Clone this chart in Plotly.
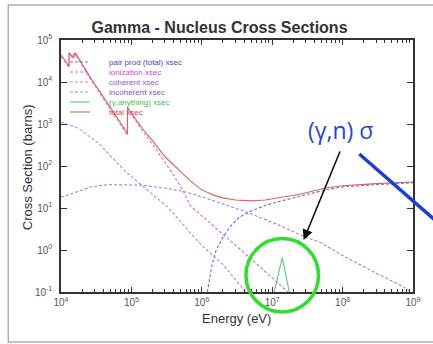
import plotly.graph_objects as go

# ---- cross-section data (energy in eV, cross section in barns) ----
total_E = [1.0e4, 1.30e4, 1.30e4, 1.52e4, 1.52e4, 1.59e4, 1.59e4, 2.0e4, 2.7e4, 4.0e4,
           6.0e4, 8.8e4, 8.8e4, 1.0e5, 1.5e5, 2.0e5, 3.0e5, 5.0e5, 7.0e5, 1.0e6,
           1.5e6, 2.0e6, 3.0e6, 5.0e6, 8.0e6, 1.3e7, 2.4e7, 5.7e7, 1.0e8, 3.0e8, 1.0e9]
total_xs = [4.4e4, 2.4e4, 5.0e4, 3.8e4, 4.8e4, 4.4e4, 5.0e4, 2.6e4, 1.17e4, 4.4e3,
            1.6e3, 600, 2.5e3, 1.8e3, 710, 400, 166, 72, 43, 27,
            20, 17.4, 15.5, 14.8, 15.5, 17.8, 20.9, 30, 34, 38, 41.7]

ion_E = [1.0e4, 1.30e4, 1.30e4, 1.52e4, 1.52e4, 1.59e4, 1.59e4, 2.0e4, 2.7e4, 4.0e4,
         6.0e4, 8.8e4, 8.8e4, 1.0e5, 1.5e5, 2.0e5, 3.0e5, 4.0e5, 5.4e5, 6.8e5,
         1.0e6, 2.0e6, 3.0e6, 5.0e6, 1.0e7, 1.66e7]
ion_xs = [4.1e4, 2.2e4, 4.7e4, 3.6e4, 4.5e4, 4.2e4, 4.7e4, 2.4e4, 1.08e4, 4.0e3,
          1.45e3, 540, 2.3e3, 1.65e3, 620, 330, 125, 60, 26, 11.5,
          6.5, 2.3, 1.3, 0.62, 0.22, 0.1]

coh_E = [1.0e4, 1.77e4, 3.4e4, 8.1e4, 1.55e5, 3.3e5, 6.8e5, 1.0e6, 2.0e6, 4.2e6]
coh_xs = [1120, 790, 350, 76, 30, 10.5, 2.6, 1.3, 0.45, 0.1]

incoh_E = [1.0e4, 2.7e4, 4.7e4, 1.0e5, 1.38e5, 3.3e5, 5.4e5, 1.0e6, 1.8e6, 3.4e6,
           4.7e6, 1.26e7, 3.0e7, 4.7e7, 1.1e8, 3.0e8, 6.9e8, 9.5e8]
incoh_xs = [18, 32, 36, 36, 35, 29, 25, 18.6, 13.2, 9.1,
            7.6, 3.9, 2.0, 1.55, 0.68, 0.28, 0.14, 0.1]

pair_E = [1.2e6, 1.4e6, 1.6e6, 2.0e6, 2.5e6, 3.4e6, 5.0e6, 8.0e6, 1.3e7, 3.0e7,
          6.0e7, 1.0e8, 3.0e8, 1.0e9]
pair_xs = [0.1, 0.45, 1.0, 2.0, 3.5, 6.0, 8.5, 11.5, 14.5, 21,
           27.5, 31.6, 36, 39.8]

gdr_E = [1.07e7, 1.2e7, 1.3e7, 1.39e7, 1.5e7, 1.62e7, 1.75e7]
gdr_xs = [0.1, 0.22, 0.41, 0.66, 0.35, 0.19, 0.1]

series_names = ["pair prod (total) xsec", "ionization xsec", "coherent xsec",
                "incoherent xsec", "(γ,anything) xsec", "total xsec"]
line_colors = ["#6470d8", "#d66ad8", "#b486e2", "#9488e0", "#5ccc6a", "#e0605a"]
text_colors = ["#3a4ad0", "#d048d0", "#8a5ad8", "#7a58cc", "#3cbc4a", "#e04040"]
dashes = ["3px,2px", "3px,2px", "3px,2px", "3px,2px", "solid", "solid"]
series = [(pair_E, pair_xs), (ion_E, ion_xs), (coh_E, coh_xs),
          (incoh_E, incoh_xs), (gdr_E, gdr_xs), (total_E, total_xs)]

x_decades = [4, 5, 6, 7, 8, 9]
y_decades = [-1, 0, 1, 2, 3, 4, 5]

W, H = 433, 344
L, R, T, B = 61, 18, 40, 52
pw, ph = W - L - R, H - T - B


def px(x):
    return (x - L) / pw


def py(y):
    return (H - B - y) / ph


def power_labels(decades):
    return [f"10<sup>{d}</sup>" for d in decades]


fig = go.Figure()
for (E, xs), name, col, dash in zip(series, series_names, line_colors, dashes):
    fig.add_trace(go.Scatter(x=E, y=xs, mode="lines", name=name, showlegend=False,
                             line=dict(color=col, width=1.1, dash=dash)))

shapes = []
annotations = []

# legend drawn inside the frame, line sample followed by coloured label
for i, (name, col, tcol, dash) in enumerate(zip(series_names, line_colors, text_colors, dashes)):
    yy = 62 + i * 10
    shapes.append(dict(type="line", xref="paper", yref="paper",
                       x0=px(70), x1=px(90), y0=py(yy), y1=py(yy),
                       line=dict(color=col, width=1.1, dash=dash)))
    annotations.append(dict(text=name, xref="paper", yref="paper", x=px(107), y=py(yy),
                            xanchor="left", yanchor="middle", showarrow=False,
                            font=dict(size=8, color=tcol, family="Liberation Sans")))

# axis titles
annotations.append(dict(text="Energy (eV)", xref="paper", yref="paper", x=px(237.5), y=py(318),
                        showarrow=False, xanchor="center", yanchor="middle",
                        font=dict(size=13, color="#333", family="Liberation Sans")))
annotations.append(dict(text="Cross Section (barns)", xref="paper", yref="paper", x=px(27), y=py(167),
                        showarrow=False, xanchor="center", yanchor="middle", textangle=-90,
                        font=dict(size=13, color="#333", family="Liberation Sans")))

# (γ,n) call-out
annotations.append(dict(text="(γ,n) σ", xref="paper", yref="paper", x=px(342), y=py(130),
                        showarrow=False, xanchor="center", yanchor="middle",
                        font=dict(size=23, color="#2448d0", family="Open Sans")))
annotations.append(dict(text="", xref="paper", yref="paper", x=px(305), y=py(240),
                        ax=37, ay=-90, showarrow=True, arrowhead=2, arrowsize=1.3,
                        arrowwidth=1.6, arrowcolor="#111"))

# circle around the giant dipole resonance peak
shapes.append(dict(type="circle", xref="paper", yref="paper",
                   x0=px(247), x1=px(320), y0=py(312), y1=py(238.5),
                   line=dict(color="#2ee02e", width=3.5)))
# slanted blue stroke
shapes.append(dict(type="line", xref="paper", yref="paper",
                   x0=px(361), y0=py(154), x1=px(445), y1=py(227),
                   line=dict(color="#1e3ed8", width=3.5)))
# outer frame
shapes.append(dict(type="rect", xref="paper", yref="paper",
                   x0=px(8), x1=px(460), y0=py(342), y1=py(5),
                   line=dict(color="#b0b0b0", width=1.5)))

axis_common = dict(type="log", showgrid=False, zeroline=False, showline=True,
                   linecolor="#333", linewidth=1.5, mirror="ticks", ticks="inside",
                   tickcolor="#333", tickmode="array",
                   tickfont=dict(size=10, color="#555", family="Liberation Sans"))

fig.update_layout(
    width=W, height=H,
    margin=dict(l=L, r=R, t=T, b=B),
    paper_bgcolor="white", plot_bgcolor="white",
    showlegend=False,
    title=dict(text="<b>Gamma - Nucleus Cross Sections</b>", x=219.5 / W, xanchor="center",
               y=1 - 27 / H, yanchor="middle", xref="container", yref="container",
               font=dict(size=16, color="#333", family="Liberation Sans")),
    xaxis=dict(range=[4, 9], ticklen=5,
               tickvals=[10 ** d for d in x_decades], ticktext=power_labels(x_decades),
               minor=dict(ticks="inside", ticklen=3, tickcolor="#333", dtick="D1"),
               **axis_common),
    yaxis=dict(range=[-1, 5], ticklen=6, ticklabelstandoff=5,
               tickvals=[10.0 ** d for d in y_decades], ticktext=power_labels(y_decades),
               **axis_common),
    shapes=shapes,
    annotations=annotations,
)

fig.write_html("out.html")
